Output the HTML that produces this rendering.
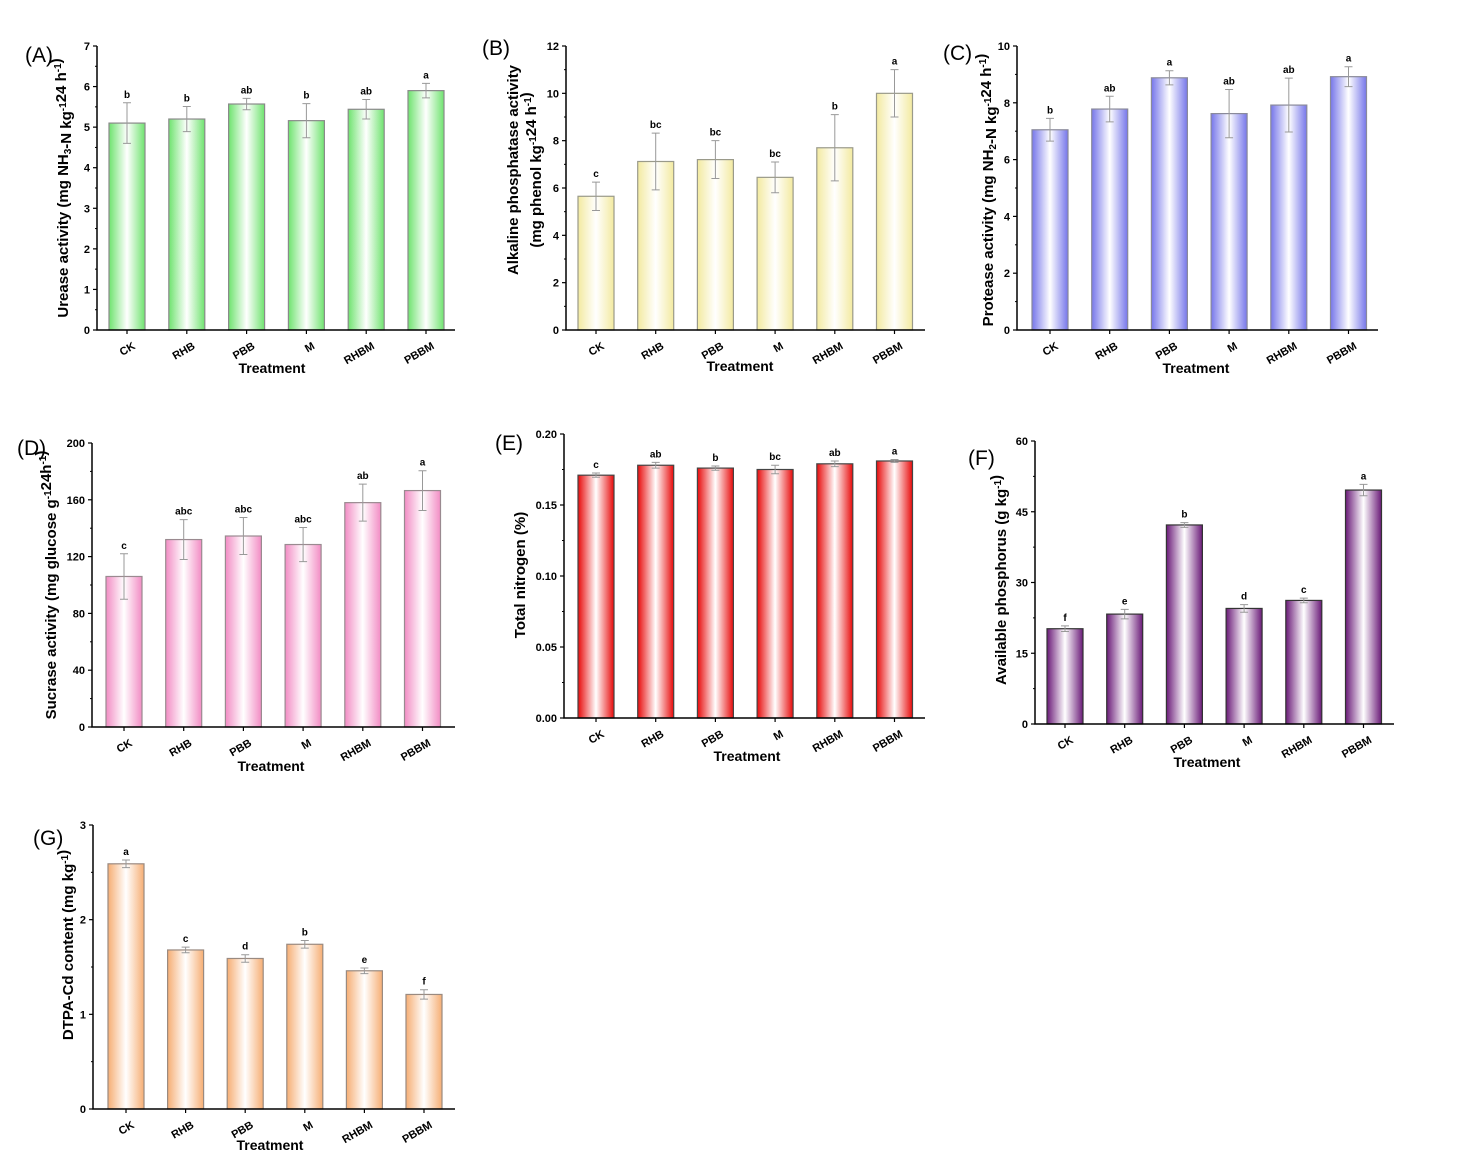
<!DOCTYPE html>
<html><head><meta charset="utf-8"><style>
html,body{margin:0;padding:0;background:#fff;}
svg{display:block;font-family:"Liberation Sans",Arial,sans-serif;}
.tk{font-size:11px;font-weight:bold;}
.lt{font-size:10px;font-weight:bold;}
.tt{font-size:14px;font-weight:bold;}
.yl{font-size:15px;font-weight:bold;}
.pl{font-size:21px;}
</style></head><body>
<svg id="chart" width="1466" height="1175" viewBox="0 0 1466 1175"></svg>
<script>
const categories=["CK","RHB","PBB","M","RHBM","PBBM"];
const aValues=[5.1,5.2,5.57,5.16,5.44,5.9];
const aErrors=[0.5,0.31,0.14,0.42,0.24,0.18];
const aLetters=["b","b","ab","b","ab","a"];
const aTicks=[0,1,2,3,4,5,6,7];
const bValues=[5.65,7.12,7.2,6.45,7.7,10.0];
const bErrors=[0.6,1.2,0.8,0.65,1.4,1.0];
const bLetters=["c","bc","bc","bc","b","a"];
const bTicks=[0,2,4,6,8,10,12];
const cValues=[7.05,7.78,8.88,7.62,7.92,8.92];
const cErrors=[0.4,0.45,0.25,0.85,0.95,0.35];
const cLetters=["b","ab","a","ab","ab","a"];
const cTicks=[0,2,4,6,8,10];
const dValues=[106,132,134.5,128.5,158,166.5];
const dErrors=[16,14,13,12,13,14];
const dLetters=["c","abc","abc","abc","ab","a"];
const dTicks=[0,40,80,120,160,200];
const eValues=[0.171,0.178,0.176,0.175,0.179,0.181];
const eErrors=[0.0015,0.002,0.0015,0.003,0.002,0.001];
const eLetters=["c","ab","b","bc","ab","a"];
const eTicks=["0.00","0.05","0.10","0.15","0.20"];
const fValues=[20.2,23.3,42.2,24.5,26.2,49.6];
const fErrors=[0.6,1.0,0.5,0.8,0.5,1.2];
const fLetters=["f","e","b","d","c","a"];
const fTicks=[0,15,30,45,60];
const gValues=[2.59,1.68,1.59,1.74,1.46,1.21];
const gErrors=[0.04,0.03,0.04,0.04,0.03,0.05];
const gLetters=["a","c","d","b","e","f"];
const gTicks=[0,1,2,3];

const NS="http://www.w3.org/2000/svg";
const svg=document.getElementById('chart');
function mk(tag,attrs,parent){const e=document.createElementNS(NS,tag);for(const k in attrs)e.setAttribute(k,attrs[k]);(parent||svg).appendChild(e);return e;}
const defs=mk('defs',{});

function panel(id,cfg,vals,errs,lets,ticks){
  const g=mk('g',{});
  
  
  const gr=mk('linearGradient',{id:'gr'+id,x1:'0',x2:'1',y1:'0',y2:'0'},defs);
  mk('stop',{offset:'0',"stop-color":cfg.col},gr);
  mk('stop',{offset:'0.5',"stop-color":'#fff'},gr);
  mk('stop',{offset:'1',"stop-color":cfg.col},gr);
  const tmax=parseFloat(ticks[ticks.length-1]);
  const yS=v=>cfg.y0-(v/tmax)*(cfg.y0-cfg.yT);
  const xS=i=>cfg.x1+cfg.step*i;
  vals.forEach((v,i)=>{
    const cx=xS(i),bw=36;
    const r=mk('rect',{x:cx-bw/2,y:yS(v),width:bw,height:cfg.y0-yS(v),fill:'url(#gr'+id+')',stroke:cfg.stroke,'stroke-width':1.2},g);
    
    
    const e=errs[i],yt=yS(v+e),yb=yS(v-e);
    const eb=mk('path',{d:`M${cx} ${yt}V${yb}M${cx-4} ${yt}H${cx+4}M${cx-4} ${yb}H${cx+4}`,stroke:'#999','stroke-width':1,fill:'none'},g);
    
    
    const lt=mk('text',{x:cx,y:yt-5,'text-anchor':'middle',class:'lt'},g);lt.textContent=lets[i];
    
    
    mk('line',{x1:cx,x2:cx,y1:cfg.y0,y2:cfg.y0+4,stroke:'#000','stroke-width':1.2},g);
    const xl=mk('text',{x:cx+9,y:cfg.y0+18,'text-anchor':'end',class:'tk',transform:`rotate(-30 ${cx+9} ${cfg.y0+18})`},g);
    xl.textContent=categories[i];
    
    
  });
  mk('path',{d:`M${cfg.ax} ${cfg.yT}V${cfg.y0}H${cfg.xe}`,stroke:'#000','stroke-width':1.5,fill:'none'},g);
  ticks.forEach((t,k)=>{
    const y=yS(parseFloat(t));
    mk('line',{x1:cfg.ax-4,x2:cfg.ax,y1:y,y2:y,stroke:'#000','stroke-width':1.2},g);
    if(k<ticks.length-1){const ym=(y+yS(parseFloat(ticks[k+1])))/2;mk('line',{x1:cfg.ax-2,x2:cfg.ax,y1:ym,y2:ym,stroke:'#000','stroke-width':1},g);}
    const tl=mk('text',{x:cfg.ax-7,y:y+4,'text-anchor':'end',class:'tk'},g);tl.textContent=t;
    
    
  });
  const tt=mk('text',{x:cfg.tx,y:cfg.ty,'text-anchor':'middle',class:'tt'},g);tt.textContent='Treatment';
  
  
  cfg.yl.forEach((s,j)=>{
    const x=cfg.ylx+j*23;
    const yl=mk('text',{x:x,y:cfg.yly,'text-anchor':'middle',class:'yl',transform:`rotate(-90 ${x} ${cfg.yly})`},g);
    yl.innerHTML=s;
    
    
  });
  const pl=mk('text',{x:cfg.px,y:cfg.py,class:'pl'},g);pl.textContent='('+id+')';
  
  
}
const sub=s=>`<tspan font-size="10" dy="3">${s}</tspan><tspan dy="-3"></tspan>`;
const sup=s=>`<tspan font-size="10" dy="-5">${s}</tspan><tspan dy="5"></tspan>`;

panel('A',{col:'#6fe36f',stroke:'#8a8a8a',ax:97,xe:455,y0:330,yT:46,x1:127,step:59.8,tx:272,ty:373,ylx:68,yly:188,px:25,py:62,
 yl:['Urease  activity (mg NH'+sub('3')+'-N kg'+sup('-1')+'24 h'+sup('-1')+')']},aValues,aErrors,aLetters,aTicks);
panel('B',{col:'#f3eaa0',stroke:'#9a9a8a',ax:566,xe:925,y0:330,yT:46,x1:596,step:59.7,tx:740,ty:371,ylx:518,yly:170,px:482,py:55,
 yl:['Alkaline phosphatase activity','(mg phenol kg'+sup('-1')+'24 h'+sup('-1')+')']},bValues,bErrors,bLetters,bTicks);
panel('C',{col:'#7676ea',stroke:'#8a8a9a',ax:1017,xe:1378,y0:330,yT:46,x1:1050,step:59.7,tx:1196,ty:373,ylx:993,yly:190,px:943,py:60,
 yl:['Protease activity  (mg NH'+sub('2')+'-N kg'+sup('-1')+'24 h'+sup('-1')+')']},cValues,cErrors,cLetters,cTicks);
panel('D',{col:'#f28cc4',stroke:'#9a8a90',ax:92,xe:455,y0:727,yT:443,x1:124,step:59.7,tx:271,ty:771,ylx:56,yly:585,px:17,py:455,
 yl:['Sucrase activity (mg glucose g'+sup('-1')+'24h'+sup('-1')+')']},dValues,dErrors,dLetters,dTicks);
panel('E',{col:'#e80a0a',stroke:'#444',ax:564,xe:925,y0:718,yT:434,x1:596,step:59.7,tx:747,ty:761,ylx:525,yly:575,px:495,py:450,
 yl:['Total  nitrogen (%)']},eValues,eErrors,eLetters,eTicks);
panel('F',{col:'#6a1a78',stroke:'#333',ax:1035,xe:1394,y0:724,yT:441,x1:1065,step:59.7,tx:1207,ty:767,ylx:1006,yly:580,px:968,py:465,
 yl:['Available phosphorus (g kg'+sup('-1')+')']},fValues,fErrors,fLetters,fTicks);
panel('G',{col:'#f6ae74',stroke:'#9a8a80',ax:93,xe:455,y0:1109,yT:825,x1:126,step:59.6,tx:270,ty:1150,ylx:73,yly:945,px:33,py:845,
 yl:['DTPA-Cd content (mg kg'+sup('-1')+')']},gValues,gErrors,gLetters,gTicks);
</script>
</body></html>
